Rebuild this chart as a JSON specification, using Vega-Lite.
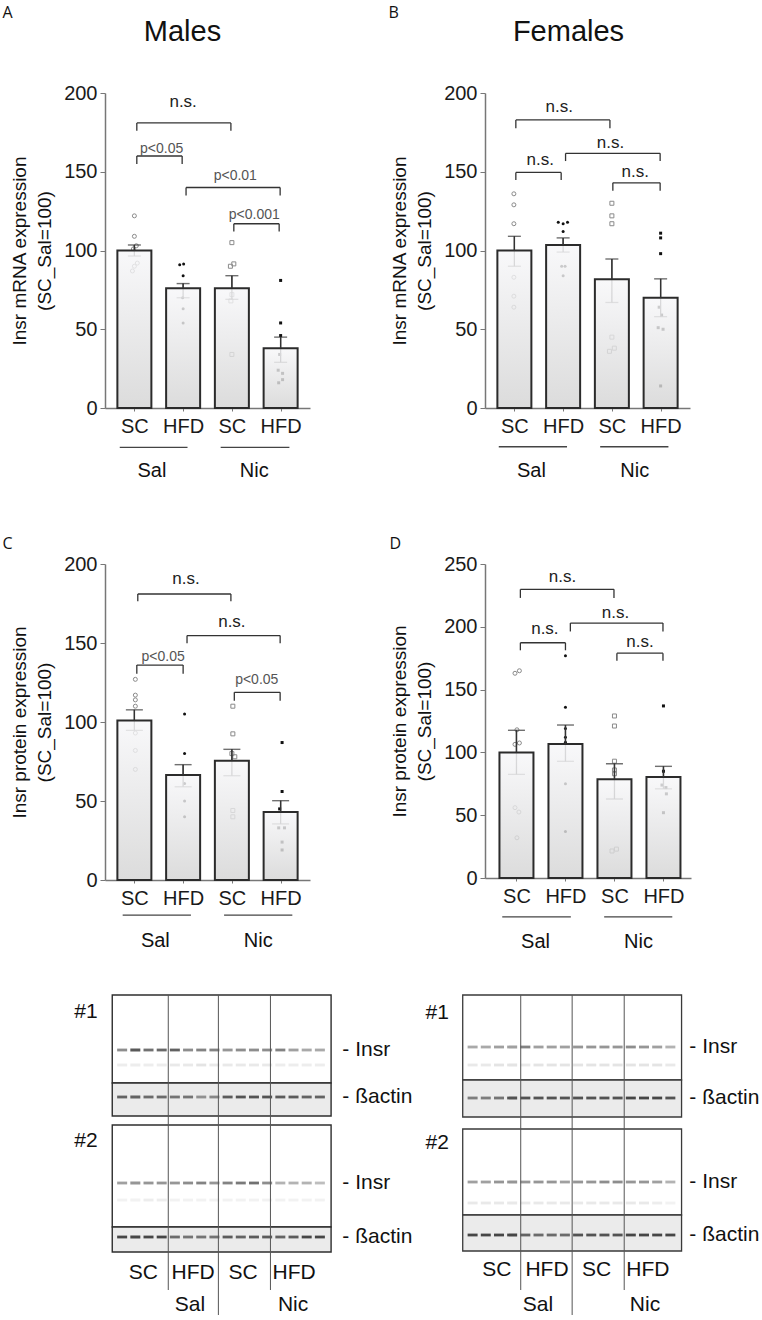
{
"$schema":"https://vega.github.io/schema/vega-lite/v6.json",
"autosize":{"type":"none"},
"padding":{"left":105,"top":93,"right":657,"bottom":1227},
"config":{"view":{"stroke":null},"font":"Liberation Sans","axis":{"grid":false}},
"datasets":{
"ptsA":[{"x":1.0,"y":122,"d":"SC","t":"Sal"},{"x":1.0,"y":109,"d":"SC","t":"Sal"},{"x":1.04,"y":103,"d":"SC","t":"Sal"},{"x":0.98,"y":101,"d":"SC","t":"Sal"},{"x":1.06,"y":92,"d":"SC","t":"Sal"},{"x":1.0,"y":90,"d":"SC","t":"Sal"},{"x":0.96,"y":87,"d":"SC","t":"Sal"},
{"x":1.93,"y":91,"d":"HFD","t":"Sal"},{"x":2.01,"y":91.5,"d":"HFD","t":"Sal"},{"x":2.0,"y":84,"d":"HFD","t":"Sal"},{"x":1.99,"y":70,"d":"HFD","t":"Sal"},{"x":2.0,"y":63,"d":"HFD","t":"Sal"},{"x":2.0,"y":54,"d":"HFD","t":"Sal"},
{"x":3.0,"y":105,"d":"SC","t":"Nic"},{"x":3.04,"y":91.5,"d":"SC","t":"Nic"},{"x":2.97,"y":90,"d":"SC","t":"Nic"},{"x":3.0,"y":72,"d":"SC","t":"Nic"},{"x":2.98,"y":68,"d":"SC","t":"Nic"},{"x":3.0,"y":34,"d":"SC","t":"Nic"},
{"x":4.0,"y":81,"d":"HFD","t":"Nic"},{"x":4.0,"y":54,"d":"HFD","t":"Nic"},{"x":4.0,"y":46,"d":"HFD","t":"Nic"},{"x":3.98,"y":34,"d":"HFD","t":"Nic"},{"x":3.95,"y":24,"d":"HFD","t":"Nic"},{"x":4.04,"y":22,"d":"HFD","t":"Nic"},{"x":4.04,"y":18,"d":"HFD","t":"Nic"},{"x":3.96,"y":16,"d":"HFD","t":"Nic"}],
"barsA":[{"x":1,"mean":100,"lo":96.5,"hi":103.5},{"x":2,"mean":76,"lo":70,"hi":79},{"x":3,"mean":76,"lo":69,"hi":84},{"x":4,"mean":38,"lo":29,"hi":45}],
"brA":[{"x1":1.05,"x2":2.98,"y":181,"yl":176,"xt":2.0,"ty":194.5,"lab":"n.s."},{"x1":1.05,"x2":1.98,"y":160,"yl":155,"xt":1.56,"ty":164.4,"lab":"p<0.05"},{"x1":2.06,"x2":3.99,"y":140,"yl":135,"xt":3.07,"ty":147,"lab":"p<0.01"},{"x1":3.04,"x2":3.97,"y":117,"yl":112,"xt":3.46,"ty":122.5,"lab":"p<0.001"}],
"grpA":[{"x1":0.70,"x2":2.09,"yl":-25,"xt":1.36,"yt":-39.8,"t":"Sal"},{"x1":2.77,"x2":4.18,"yl":-25,"xt":3.46,"yt":-39.8,"t":"Nic"}],
"ptsB":[{"x":0.99,"y":136,"d":"SC","t":"Sal"},{"x":0.99,"y":129,"d":"SC","t":"Sal"},{"x":0.99,"y":117,"d":"SC","t":"Sal"},{"x":0.99,"y":83,"d":"SC","t":"Sal"},{"x":0.99,"y":71,"d":"SC","t":"Sal"},{"x":0.99,"y":64,"d":"SC","t":"Sal"},
{"x":1.9,"y":118,"d":"HFD","t":"Sal"},{"x":2.0,"y":117,"d":"HFD","t":"Sal"},{"x":2.09,"y":118,"d":"HFD","t":"Sal"},{"x":2.0,"y":112,"d":"HFD","t":"Sal"},{"x":1.97,"y":90,"d":"HFD","t":"Sal"},{"x":2.04,"y":90,"d":"HFD","t":"Sal"},{"x":2.0,"y":84,"d":"HFD","t":"Sal"},
{"x":3.0,"y":130,"d":"SC","t":"Nic"},{"x":3.0,"y":122,"d":"SC","t":"Nic"},{"x":3.0,"y":117,"d":"SC","t":"Nic"},{"x":3.0,"y":45,"d":"SC","t":"Nic"},{"x":3.05,"y":38,"d":"SC","t":"Nic"},{"x":2.95,"y":36,"d":"SC","t":"Nic"},
{"x":4.0,"y":111,"d":"HFD","t":"Nic"},{"x":4.0,"y":108,"d":"HFD","t":"Nic"},{"x":4.0,"y":98,"d":"HFD","t":"Nic"},{"x":3.97,"y":64,"d":"HFD","t":"Nic"},{"x":4.02,"y":59,"d":"HFD","t":"Nic"},{"x":3.95,"y":51,"d":"HFD","t":"Nic"},{"x":4.05,"y":50,"d":"HFD","t":"Nic"},{"x":4.0,"y":14,"d":"HFD","t":"Nic"}],
"barsB":[{"x":1,"mean":100,"lo":90,"hi":109},{"x":2,"mean":103.5,"lo":99,"hi":108},{"x":3,"mean":81.7,"lo":67,"hi":94.6},{"x":4,"mean":70,"lo":58,"hi":82}],
"brB":[{"x1":1.03,"x2":2.96,"y":182.9,"yl":177.6,"xt":1.92,"ty":191.3,"lab":"n.s."},{"x1":2.05,"x2":3.99,"y":161.7,"yl":156.8,"xt":2.97,"ty":168,"lab":"n.s."},{"x1":1.03,"x2":1.96,"y":149.6,"yl":144.8,"xt":1.53,"ty":157.5,"lab":"n.s."},{"x1":3.02,"x2":3.99,"y":143,"yl":138,"xt":3.48,"ty":149.6,"lab":"n.s."}],
"grpB":[{"x1":0.68,"x2":2.08,"yl":-24.6,"xt":1.35,"yt":-39.8,"t":"Sal"},{"x1":2.76,"x2":4.16,"yl":-24.6,"xt":3.47,"yt":-39.8,"t":"Nic"}],
"ptsC":[{"x":1.02,"y":127,"d":"SC","t":"Sal"},{"x":1.02,"y":117,"d":"SC","t":"Sal"},{"x":1.02,"y":114,"d":"SC","t":"Sal"},{"x":1.02,"y":110,"d":"SC","t":"Sal"},{"x":1.02,"y":93,"d":"SC","t":"Sal"},{"x":1.02,"y":82,"d":"SC","t":"Sal"},{"x":1.02,"y":70,"d":"SC","t":"Sal"},
{"x":2.03,"y":105,"d":"HFD","t":"Sal"},{"x":2.03,"y":80,"d":"HFD","t":"Sal"},{"x":2.03,"y":61,"d":"HFD","t":"Sal"},{"x":2.03,"y":50,"d":"HFD","t":"Sal"},{"x":2.03,"y":40,"d":"HFD","t":"Sal"},
{"x":3.02,"y":110,"d":"SC","t":"Nic"},{"x":3.02,"y":92.5,"d":"SC","t":"Nic"},{"x":3.0,"y":80,"d":"SC","t":"Nic"},{"x":3.06,"y":78,"d":"SC","t":"Nic"},{"x":3.02,"y":44,"d":"SC","t":"Nic"},{"x":3.02,"y":40,"d":"SC","t":"Nic"},
{"x":4.03,"y":87,"d":"HFD","t":"Nic"},{"x":4.03,"y":56,"d":"HFD","t":"Nic"},{"x":3.98,"y":45,"d":"HFD","t":"Nic"},{"x":3.96,"y":33,"d":"HFD","t":"Nic"},{"x":4.08,"y":33,"d":"HFD","t":"Nic"},{"x":4.03,"y":24,"d":"HFD","t":"Nic"},{"x":4.03,"y":19,"d":"HFD","t":"Nic"}],
"barsC":[{"x":1,"mean":101,"lo":94.7,"hi":107.7},{"x":2,"mean":66.4,"lo":59,"hi":73},{"x":3,"mean":75.4,"lo":66,"hi":82.7},{"x":4,"mean":43,"lo":35.5,"hi":50.2}],
"brC":[{"x1":1.07,"x2":2.98,"y":181,"yl":176.5,"xt":2.06,"ty":190.4,"lab":"n.s."},{"x1":2.08,"x2":3.99,"y":154.7,"yl":149.8,"xt":3.0,"ty":163.6,"lab":"n.s."},{"x1":1.05,"x2":2.0,"y":136,"yl":130.6,"xt":1.59,"ty":141.2,"lab":"p<0.05"},{"x1":3.05,"x2":3.99,"y":118.8,"yl":113.5,"xt":3.51,"ty":126.3,"lab":"p<0.05"}],
"grpC":[{"x1":0.76,"x2":2.16,"yl":-22.2,"xt":1.43,"yt":-38.3,"t":"Sal"},{"x1":2.84,"x2":4.24,"yl":-22.2,"xt":3.54,"yt":-38.3,"t":"Nic"}],
"ptsD":[{"x":1.06,"y":165,"d":"SC","t":"Sal"},{"x":0.97,"y":163,"d":"SC","t":"Sal"},{"x":1.01,"y":118,"d":"SC","t":"Sal"},{"x":1.06,"y":107.5,"d":"SC","t":"Sal"},{"x":0.97,"y":106.4,"d":"SC","t":"Sal"},{"x":0.97,"y":56,"d":"SC","t":"Sal"},{"x":1.05,"y":52.5,"d":"SC","t":"Sal"},{"x":1.01,"y":32,"d":"SC","t":"Sal"},
{"x":2.0,"y":177,"d":"HFD","t":"Sal"},{"x":2.0,"y":136,"d":"HFD","t":"Sal"},{"x":2.0,"y":119,"d":"HFD","t":"Sal"},{"x":2.0,"y":112,"d":"HFD","t":"Sal"},{"x":2.0,"y":108,"d":"HFD","t":"Sal"},{"x":2.0,"y":75,"d":"HFD","t":"Sal"},{"x":2.0,"y":37,"d":"HFD","t":"Sal"},
{"x":3.0,"y":129,"d":"SC","t":"Nic"},{"x":3.0,"y":121,"d":"SC","t":"Nic"},{"x":3.0,"y":93,"d":"SC","t":"Nic"},{"x":3.0,"y":86,"d":"SC","t":"Nic"},{"x":3.0,"y":83,"d":"SC","t":"Nic"},{"x":3.04,"y":23,"d":"SC","t":"Nic"},{"x":2.95,"y":21.5,"d":"SC","t":"Nic"},
{"x":4.0,"y":137,"d":"HFD","t":"Nic"},{"x":4.0,"y":85,"d":"HFD","t":"Nic"},{"x":3.97,"y":74,"d":"HFD","t":"Nic"},{"x":4.05,"y":72,"d":"HFD","t":"Nic"},{"x":4.06,"y":67,"d":"HFD","t":"Nic"},{"x":4.0,"y":52,"d":"HFD","t":"Nic"}],
"barsD":[{"x":1,"mean":100,"lo":82.5,"hi":117.6},{"x":2,"mean":106.7,"lo":92.9,"hi":121.8},{"x":3,"mean":78.6,"lo":62.9,"hi":91},{"x":4,"mean":80.4,"lo":71,"hi":88.9}],
"brD":[{"x1":1.08,"x2":2.99,"y":229.8,"yl":223,"xt":1.94,"ty":239.6,"lab":"n.s."},{"x1":2.1,"x2":3.99,"y":203,"yl":196.3,"xt":3.02,"ty":211,"lab":"n.s."},{"x1":1.08,"x2":2.0,"y":187.3,"yl":181.3,"xt":1.58,"ty":198,"lab":"n.s."},{"x1":3.05,"x2":3.99,"y":179,"yl":173,"xt":3.52,"ty":188,"lab":"n.s."}],
"grpD":[{"x1":0.71,"x2":2.11,"yl":-31,"xt":1.39,"yt":-51,"t":"Sal"},{"x1":2.79,"x2":4.18,"yl":-31,"xt":3.49,"yt":-51,"t":"Nic"}],
"boxL":[{"x1":0.25,"x2":16.85,"y1":0,"y2":8.8,"k":"ins"},{"x1":0.25,"x2":16.85,"y1":8.8,"y2":12.1,"k":"act"},{"x1":0.25,"x2":16.85,"y1":13.0,"y2":23.2,"k":"ins"},{"x1":0.25,"x2":16.85,"y1":23.2,"y2":25.7,"k":"act"}],
"boxR":[{"x1":0.25,"x2":16.85,"y1":0,"y2":8.5,"k":"ins"},{"x1":0.25,"x2":16.85,"y1":8.5,"y2":12.2,"k":"act"},{"x1":0.25,"x2":16.85,"y1":13.4,"y2":22.0,"k":"ins"},{"x1":0.25,"x2":16.85,"y1":22.0,"y2":25.6,"k":"act"}],
"divL":[{"x":4.5,"y1":0,"y2":29.5},{"x":8.3,"y1":0,"y2":32},{"x":12.25,"y1":0,"y2":29.5}],
"divR":[{"x":4.65,"y1":0,"y2":29.5},{"x":8.55,"y1":0,"y2":32},{"x":12.5,"y1":0,"y2":29.5}],
"labLl":[{"x":17.7,"y":5.5,"t":"- Insr"},{"x":17.7,"y":10.2,"t":"- ßactin"},{"x":17.7,"y":18.8,"t":"- Insr"},{"x":17.7,"y":24.2,"t":"- ßactin"}],
"labLc":[{"x":-1.75,"y":1.7,"t":"#1"},{"x":-1.75,"y":14.6,"t":"#2"},{"x":2.61,"y":27.8,"t":"SC"},{"x":6.38,"y":27.8,"t":"HFD"},{"x":10.17,"y":27.8,"t":"SC"},{"x":14.04,"y":27.8,"t":"HFD"},{"x":6.15,"y":31.0,"t":"Sal"},{"x":13.97,"y":31.0,"t":"Nic"}],
"labRl":[{"x":17.44,"y":5.2,"t":"- Insr"},{"x":17.44,"y":10.3,"t":"- ßactin"},{"x":17.44,"y":18.7,"t":"- Insr"},{"x":17.44,"y":24.0,"t":"- ßactin"}],
"labRc":[{"x":-1.68,"y":1.8,"t":"#1"},{"x":-1.68,"y":14.8,"t":"#2"},{"x":2.83,"y":27.5,"t":"SC"},{"x":6.64,"y":27.5,"t":"HFD"},{"x":10.41,"y":27.5,"t":"SC"},{"x":14.3,"y":27.5,"t":"HFD"},{"x":5.96,"y":31.0,"t":"Sal"},{"x":14.08,"y":31.0,"t":"Nic"}],
"bandL":[
{"r":"I1","l":1,"v":0.55},{"r":"I1","l":2,"v":0.85},{"r":"I1","l":3,"v":0.7},{"r":"I1","l":4,"v":0.75},{"r":"I1","l":5,"v":0.8},{"r":"I1","l":6,"v":0.55},{"r":"I1","l":7,"v":0.6},{"r":"I1","l":8,"v":0.6},{"r":"I1","l":9,"v":0.5},{"r":"I1","l":10,"v":0.55},{"r":"I1","l":11,"v":0.55},{"r":"I1","l":12,"v":0.55},{"r":"I1","l":13,"v":0.6},{"r":"I1","l":14,"v":0.45},{"r":"I1","l":15,"v":0.4},{"r":"I1","l":16,"v":0.4},
{"r":"F1","l":1,"v":0.08},{"r":"F1","l":2,"v":0.08},{"r":"F1","l":3,"v":0.08},{"r":"F1","l":4,"v":0.08},{"r":"F1","l":5,"v":0.1},{"r":"F1","l":6,"v":0.1},{"r":"F1","l":7,"v":0.12},{"r":"F1","l":8,"v":0.1},{"r":"F1","l":9,"v":0.1},{"r":"F1","l":10,"v":0.1},{"r":"F1","l":11,"v":0.1},{"r":"F1","l":12,"v":0.1},{"r":"F1","l":13,"v":0.08},{"r":"F1","l":14,"v":0.08},{"r":"F1","l":15,"v":0.08},{"r":"F1","l":16,"v":0.08},
{"r":"A1","l":1,"v":0.75},{"r":"A1","l":2,"v":0.75},{"r":"A1","l":3,"v":0.7},{"r":"A1","l":4,"v":0.7},{"r":"A1","l":5,"v":0.65},{"r":"A1","l":6,"v":0.65},{"r":"A1","l":7,"v":0.5},{"r":"A1","l":8,"v":0.55},{"r":"A1","l":9,"v":0.8},{"r":"A1","l":10,"v":0.85},{"r":"A1","l":11,"v":0.85},{"r":"A1","l":12,"v":0.85},{"r":"A1","l":13,"v":0.8},{"r":"A1","l":14,"v":0.8},{"r":"A1","l":15,"v":0.75},{"r":"A1","l":16,"v":0.75},
{"r":"I2","l":1,"v":0.45},{"r":"I2","l":2,"v":0.5},{"r":"I2","l":3,"v":0.5},{"r":"I2","l":4,"v":0.5},{"r":"I2","l":5,"v":0.5},{"r":"I2","l":6,"v":0.55},{"r":"I2","l":7,"v":0.6},{"r":"I2","l":8,"v":0.5},{"r":"I2","l":9,"v":0.6},{"r":"I2","l":10,"v":0.65},{"r":"I2","l":11,"v":0.7},{"r":"I2","l":12,"v":0.55},{"r":"I2","l":13,"v":0.35},{"r":"I2","l":14,"v":0.35},{"r":"I2","l":15,"v":0.35},{"r":"I2","l":16,"v":0.3},
{"r":"F2","l":1,"v":0.06},{"r":"F2","l":2,"v":0.06},{"r":"F2","l":3,"v":0.08},{"r":"F2","l":4,"v":0.08},{"r":"F2","l":5,"v":0.06},{"r":"F2","l":6,"v":0.06},{"r":"F2","l":7,"v":0.06},{"r":"F2","l":8,"v":0.06},{"r":"F2","l":9,"v":0.06},{"r":"F2","l":10,"v":0.06},{"r":"F2","l":11,"v":0.06},{"r":"F2","l":12,"v":0.06},{"r":"F2","l":13,"v":0.06},{"r":"F2","l":14,"v":0.06},{"r":"F2","l":15,"v":0.06},{"r":"F2","l":16,"v":0.06},
{"r":"A2","l":1,"v":0.95},{"r":"A2","l":2,"v":0.95},{"r":"A2","l":3,"v":0.9},{"r":"A2","l":4,"v":0.9},{"r":"A2","l":5,"v":0.7},{"r":"A2","l":6,"v":0.65},{"r":"A2","l":7,"v":0.65},{"r":"A2","l":8,"v":0.65},{"r":"A2","l":9,"v":0.8},{"r":"A2","l":10,"v":0.75},{"r":"A2","l":11,"v":0.8},{"r":"A2","l":12,"v":0.8},{"r":"A2","l":13,"v":0.75},{"r":"A2","l":14,"v":0.8},{"r":"A2","l":15,"v":0.9},{"r":"A2","l":16,"v":0.95}],
"bandR":[
{"r":"I1","l":1,"v":0.4},{"r":"I1","l":2,"v":0.4},{"r":"I1","l":3,"v":0.45},{"r":"I1","l":4,"v":0.45},{"r":"I1","l":5,"v":0.6},{"r":"I1","l":6,"v":0.45},{"r":"I1","l":7,"v":0.45},{"r":"I1","l":8,"v":0.45},{"r":"I1","l":9,"v":0.5},{"r":"I1","l":10,"v":0.5},{"r":"I1","l":11,"v":0.5},{"r":"I1","l":12,"v":0.5},{"r":"I1","l":13,"v":0.55},{"r":"I1","l":14,"v":0.5},{"r":"I1","l":15,"v":0.45},{"r":"I1","l":16,"v":0.35},
{"r":"F1","l":1,"v":0.1},{"r":"F1","l":2,"v":0.1},{"r":"F1","l":3,"v":0.12},{"r":"F1","l":4,"v":0.12},{"r":"F1","l":5,"v":0.1},{"r":"F1","l":6,"v":0.12},{"r":"F1","l":7,"v":0.12},{"r":"F1","l":8,"v":0.12},{"r":"F1","l":9,"v":0.12},{"r":"F1","l":10,"v":0.12},{"r":"F1","l":11,"v":0.12},{"r":"F1","l":12,"v":0.12},{"r":"F1","l":13,"v":0.12},{"r":"F1","l":14,"v":0.12},{"r":"F1","l":15,"v":0.12},{"r":"F1","l":16,"v":0.1},
{"r":"A1","l":1,"v":0.6},{"r":"A1","l":2,"v":0.6},{"r":"A1","l":3,"v":0.65},{"r":"A1","l":4,"v":0.85},{"r":"A1","l":5,"v":0.85},{"r":"A1","l":6,"v":0.85},{"r":"A1","l":7,"v":0.85},{"r":"A1","l":8,"v":0.85},{"r":"A1","l":9,"v":0.85},{"r":"A1","l":10,"v":0.85},{"r":"A1","l":11,"v":0.85},{"r":"A1","l":12,"v":0.85},{"r":"A1","l":13,"v":0.9},{"r":"A1","l":14,"v":0.9},{"r":"A1","l":15,"v":0.9},{"r":"A1","l":16,"v":0.85},
{"r":"I2","l":1,"v":0.45},{"r":"I2","l":2,"v":0.45},{"r":"I2","l":3,"v":0.5},{"r":"I2","l":4,"v":0.5},{"r":"I2","l":5,"v":0.5},{"r":"I2","l":6,"v":0.5},{"r":"I2","l":7,"v":0.5},{"r":"I2","l":8,"v":0.45},{"r":"I2","l":9,"v":0.5},{"r":"I2","l":10,"v":0.5},{"r":"I2","l":11,"v":0.55},{"r":"I2","l":12,"v":0.55},{"r":"I2","l":13,"v":0.5},{"r":"I2","l":14,"v":0.5},{"r":"I2","l":15,"v":0.45},{"r":"I2","l":16,"v":0.35},
{"r":"F2","l":1,"v":0.1},{"r":"F2","l":2,"v":0.1},{"r":"F2","l":3,"v":0.1},{"r":"F2","l":4,"v":0.1},{"r":"F2","l":5,"v":0.1},{"r":"F2","l":6,"v":0.1},{"r":"F2","l":7,"v":0.1},{"r":"F2","l":8,"v":0.1},{"r":"F2","l":9,"v":0.1},{"r":"F2","l":10,"v":0.1},{"r":"F2","l":11,"v":0.1},{"r":"F2","l":12,"v":0.1},{"r":"F2","l":13,"v":0.1},{"r":"F2","l":14,"v":0.1},{"r":"F2","l":15,"v":0.08},{"r":"F2","l":16,"v":0.06},
{"r":"A2","l":1,"v":0.9},{"r":"A2","l":2,"v":0.9},{"r":"A2","l":3,"v":0.9},{"r":"A2","l":4,"v":0.9},{"r":"A2","l":5,"v":0.75},{"r":"A2","l":6,"v":0.7},{"r":"A2","l":7,"v":0.7},{"r":"A2","l":8,"v":0.7},{"r":"A2","l":9,"v":0.85},{"r":"A2","l":10,"v":0.85},{"r":"A2","l":11,"v":0.85},{"r":"A2","l":12,"v":0.85},{"r":"A2","l":13,"v":0.9},{"r":"A2","l":14,"v":0.9},{"r":"A2","l":15,"v":0.9},{"r":"A2","l":16,"v":0.9}]
},
"bounds":"flush",
"columns":2,
"spacing":{"row":156,"column":175},
"concat":[
{"width":205,"height":315,"resolve":{"axis":{"x":"independent","y":"independent"}},"layer":[
{"data":{"name":"ptsA"},"transform":[{"filter":"datum.d=='SC'"}],"mark":{"type":"point","filled":false,"color":"#8a8a8a","strokeWidth":1,"size":16,"opacity":1},
"encoding":{"x":{"field":"x","type":"quantitative","scale":{"domain":[0.5,4.5],"nice":false,"zero":false},"axis":{"orient":"top","title":"Males","labels":false,"ticks":false,"domain":false,"grid":false,"titleX":77,"titleY":-53,"titleAlign":"center","titleBaseline":"alphabetic","titleAngle":0,"titleFontSize":29,"titleFontWeight":"normal","titleColor":"#111"}},
"y":{"field":"y","type":"quantitative","scale":{"domain":[0,200],"nice":false,"zero":true},"axis":{"orient":"right","title":"A","labels":false,"ticks":false,"domain":false,"grid":false,"titleX":-308,"titleY":-76,"titleAngle":0,"titleAlign":"left","titleBaseline":"alphabetic","titleFontSize":16,"titleFontWeight":"normal","titleFont":"Open Sans","titleColor":"#111"}},
"shape":{"field":"t","type":"nominal","scale":{"domain":["Sal","Nic"],"range":["circle","square"]},"legend":null}}},
{"data":{"name":"ptsA"},"transform":[{"filter":"datum.d=='HFD'"}],"mark":{"type":"point","filled":true,"color":"#111","size":9,"opacity":1},
"encoding":{"x":{"field":"x","type":"quantitative","axis":null},"y":{"field":"y","type":"quantitative","axis":null},"shape":{"field":"t","type":"nominal","scale":{"domain":["Sal","Nic"],"range":["circle","square"]},"legend":null}}},
{"data":{"name":"barsA"},"mark":{"type":"rule","color":"#555","strokeWidth":1.3},"encoding":{"x":{"field":"x","type":"quantitative","axis":null},"y":{"field":"lo","type":"quantitative","axis":null},"y2":{"field":"hi"}}},
{"data":{"name":"barsA"},"mark":{"type":"tick","orient":"horizontal","size":13,"thickness":1.3,"color":"#555"},"encoding":{"x":{"field":"x","type":"quantitative","axis":null},"y":{"field":"lo","type":"quantitative","axis":null}}},
{"data":{"name":"barsA"},"mark":{"type":"bar","width":34,"fill":{"gradient":"linear","x1":0,"y1":0,"x2":0,"y2":1,"stops":[{"offset":0,"color":"#f7f7f9"},{"offset":1,"color":"#d4d4d4"}]},"fillOpacity":0.82,"stroke":"#2b2b2b","strokeWidth":2},
"encoding":{"x":{"field":"x","type":"quantitative","axis":{"orient":"bottom","values":[1,2,3,4],"labelExpr":"datum.value==1||datum.value==3?'SC':'HFD'","title":null,"labelFontSize":20,"labelColor":"#1a1a1a","labelPadding":5,"tickSize":3,"tickColor":"#777","domainColor":"#777","domainWidth":1.5,"grid":false,"labelFlush":false,"labelOverlap":false}},
"y":{"field":"mean","type":"quantitative","axis":{"orient":"left","values":[0,50,100,150,200],"title":["Insr mRNA expression","(SC_Sal=100)"],"titleFontSize":19,"titleFontWeight":"normal","titleColor":"#111","titlePadding":9,"titleLineHeight":25,"labelFontSize":20,"labelColor":"#1a1a1a","labelPadding":3,"tickSize":5,"tickColor":"#777","domainColor":"#777","domainWidth":1.5,"grid":false,"labelFlush":false}}}},
{"data":{"name":"barsA"},"mark":{"type":"rule","color":"#333","strokeWidth":1.4},"encoding":{"x":{"field":"x","type":"quantitative","axis":null},"y":{"field":"mean","type":"quantitative","axis":null},"y2":{"field":"hi"}}},
{"data":{"name":"barsA"},"mark":{"type":"tick","orient":"horizontal","size":13,"thickness":1.4,"color":"#333"},"encoding":{"x":{"field":"x","type":"quantitative","axis":null},"y":{"field":"hi","type":"quantitative","axis":null}}},
{"data":{"name":"brA"},"mark":{"type":"rule","color":"#333","strokeWidth":1.3},"encoding":{"x":{"field":"x1","type":"quantitative","axis":null},"x2":{"field":"x2"},"y":{"field":"y","type":"quantitative","axis":null}}},
{"data":{"name":"brA"},"mark":{"type":"rule","color":"#333","strokeWidth":1.3},"encoding":{"x":{"field":"x1","type":"quantitative","axis":null},"y":{"field":"y","type":"quantitative","axis":null},"y2":{"field":"yl"}}},
{"data":{"name":"brA"},"mark":{"type":"rule","color":"#333","strokeWidth":1.3},"encoding":{"x":{"field":"x2","type":"quantitative","axis":null},"y":{"field":"y","type":"quantitative","axis":null},"y2":{"field":"yl"}}},
{"data":{"name":"brA"},"mark":{"type":"text","baseline":"middle","align":"center"},"encoding":{"x":{"field":"xt","type":"quantitative","axis":null},"y":{"field":"ty","type":"quantitative","axis":null},"text":{"field":"lab"},"size":{"condition":{"test":"datum.lab=='n.s.'","value":17},"value":14},"color":{"condition":{"test":"datum.lab=='n.s.'","value":"#222"},"value":"#555"}}},
{"data":{"name":"grpA"},"mark":{"type":"rule","color":"#444","strokeWidth":1.3},"encoding":{"x":{"field":"x1","type":"quantitative","axis":null},"x2":{"field":"x2"},"y":{"field":"yl","type":"quantitative","axis":null}}},
{"data":{"name":"grpA"},"mark":{"type":"text","baseline":"middle","align":"center","fontSize":20,"color":"#111"},"encoding":{"x":{"field":"xt","type":"quantitative","axis":null},"y":{"field":"yt","type":"quantitative","axis":null},"text":{"field":"t"}}}
]},
{"width":205,"height":315,"resolve":{"axis":{"x":"independent","y":"independent"}},"layer":[
{"data":{"name":"ptsB"},"transform":[{"filter":"datum.d=='SC'"}],"mark":{"type":"point","filled":false,"color":"#8a8a8a","strokeWidth":1,"size":16,"opacity":1},
"encoding":{"x":{"field":"x","type":"quantitative","scale":{"domain":[0.5,4.5],"nice":false,"zero":false},"axis":{"orient":"top","title":"Females","labels":false,"ticks":false,"domain":false,"grid":false,"titleX":83,"titleY":-53,"titleAlign":"center","titleBaseline":"alphabetic","titleAngle":0,"titleFontSize":29,"titleFontWeight":"normal","titleColor":"#111"}},
"y":{"field":"y","type":"quantitative","scale":{"domain":[0,200],"nice":false,"zero":true},"axis":{"orient":"right","title":"B","labels":false,"ticks":false,"domain":false,"grid":false,"titleX":-302,"titleY":-76,"titleAngle":0,"titleAlign":"left","titleBaseline":"alphabetic","titleFontSize":16,"titleFontWeight":"normal","titleFont":"Open Sans","titleColor":"#111"}},
"shape":{"field":"t","type":"nominal","scale":{"domain":["Sal","Nic"],"range":["circle","square"]},"legend":null}}},
{"data":{"name":"ptsB"},"transform":[{"filter":"datum.d=='HFD'"}],"mark":{"type":"point","filled":true,"color":"#111","size":9,"opacity":1},
"encoding":{"x":{"field":"x","type":"quantitative","axis":null},"y":{"field":"y","type":"quantitative","axis":null},"shape":{"field":"t","type":"nominal","scale":{"domain":["Sal","Nic"],"range":["circle","square"]},"legend":null}}},
{"data":{"name":"barsB"},"mark":{"type":"rule","color":"#555","strokeWidth":1.3},"encoding":{"x":{"field":"x","type":"quantitative","axis":null},"y":{"field":"lo","type":"quantitative","axis":null},"y2":{"field":"hi"}}},
{"data":{"name":"barsB"},"mark":{"type":"tick","orient":"horizontal","size":13,"thickness":1.3,"color":"#555"},"encoding":{"x":{"field":"x","type":"quantitative","axis":null},"y":{"field":"lo","type":"quantitative","axis":null}}},
{"data":{"name":"barsB"},"mark":{"type":"bar","width":34,"fill":{"gradient":"linear","x1":0,"y1":0,"x2":0,"y2":1,"stops":[{"offset":0,"color":"#f7f7f9"},{"offset":1,"color":"#d4d4d4"}]},"fillOpacity":0.82,"stroke":"#2b2b2b","strokeWidth":2},
"encoding":{"x":{"field":"x","type":"quantitative","axis":{"orient":"bottom","values":[1,2,3,4],"labelExpr":"datum.value==1||datum.value==3?'SC':'HFD'","title":null,"labelFontSize":20,"labelColor":"#1a1a1a","labelPadding":5,"tickSize":3,"tickColor":"#777","domainColor":"#777","domainWidth":1.5,"grid":false,"labelFlush":false,"labelOverlap":false}},
"y":{"field":"mean","type":"quantitative","axis":{"orient":"left","values":[0,50,100,150,200],"title":["Insr mRNA expression","(SC_Sal=100)"],"titleFontSize":19,"titleFontWeight":"normal","titleColor":"#111","titlePadding":9,"titleLineHeight":25,"labelFontSize":20,"labelColor":"#1a1a1a","labelPadding":3,"tickSize":5,"tickColor":"#777","domainColor":"#777","domainWidth":1.5,"grid":false,"labelFlush":false}}}},
{"data":{"name":"barsB"},"mark":{"type":"rule","color":"#333","strokeWidth":1.4},"encoding":{"x":{"field":"x","type":"quantitative","axis":null},"y":{"field":"mean","type":"quantitative","axis":null},"y2":{"field":"hi"}}},
{"data":{"name":"barsB"},"mark":{"type":"tick","orient":"horizontal","size":13,"thickness":1.4,"color":"#333"},"encoding":{"x":{"field":"x","type":"quantitative","axis":null},"y":{"field":"hi","type":"quantitative","axis":null}}},
{"data":{"name":"brB"},"mark":{"type":"rule","color":"#333","strokeWidth":1.3},"encoding":{"x":{"field":"x1","type":"quantitative","axis":null},"x2":{"field":"x2"},"y":{"field":"y","type":"quantitative","axis":null}}},
{"data":{"name":"brB"},"mark":{"type":"rule","color":"#333","strokeWidth":1.3},"encoding":{"x":{"field":"x1","type":"quantitative","axis":null},"y":{"field":"y","type":"quantitative","axis":null},"y2":{"field":"yl"}}},
{"data":{"name":"brB"},"mark":{"type":"rule","color":"#333","strokeWidth":1.3},"encoding":{"x":{"field":"x2","type":"quantitative","axis":null},"y":{"field":"y","type":"quantitative","axis":null},"y2":{"field":"yl"}}},
{"data":{"name":"brB"},"mark":{"type":"text","baseline":"middle","align":"center"},"encoding":{"x":{"field":"xt","type":"quantitative","axis":null},"y":{"field":"ty","type":"quantitative","axis":null},"text":{"field":"lab"},"size":{"condition":{"test":"datum.lab=='n.s.'","value":17},"value":14},"color":{"condition":{"test":"datum.lab=='n.s.'","value":"#222"},"value":"#555"}}},
{"data":{"name":"grpB"},"mark":{"type":"rule","color":"#444","strokeWidth":1.3},"encoding":{"x":{"field":"x1","type":"quantitative","axis":null},"x2":{"field":"x2"},"y":{"field":"yl","type":"quantitative","axis":null}}},
{"data":{"name":"grpB"},"mark":{"type":"text","baseline":"middle","align":"center","fontSize":20,"color":"#111"},"encoding":{"x":{"field":"xt","type":"quantitative","axis":null},"y":{"field":"yt","type":"quantitative","axis":null},"text":{"field":"t"}}}
]},
{"width":205,"height":316,"resolve":{"axis":{"x":"independent","y":"independent"}},"layer":[
{"data":{"name":"ptsC"},"transform":[{"filter":"datum.d=='SC'"}],"mark":{"type":"point","filled":false,"color":"#8a8a8a","strokeWidth":1,"size":16,"opacity":1},
"encoding":{"x":{"field":"x","type":"quantitative","scale":{"domain":[0.5,4.5],"nice":false,"zero":false},"axis":null},
"y":{"field":"y","type":"quantitative","scale":{"domain":[0,200],"nice":false,"zero":true},"axis":{"orient":"right","title":"C","labels":false,"ticks":false,"domain":false,"grid":false,"titleX":-308,"titleY":-16,"titleAngle":0,"titleAlign":"left","titleBaseline":"alphabetic","titleFontSize":16,"titleFontWeight":"normal","titleFont":"Open Sans","titleColor":"#111"}},
"shape":{"field":"t","type":"nominal","scale":{"domain":["Sal","Nic"],"range":["circle","square"]},"legend":null}}},
{"data":{"name":"ptsC"},"transform":[{"filter":"datum.d=='HFD'"}],"mark":{"type":"point","filled":true,"color":"#111","size":9,"opacity":1},
"encoding":{"x":{"field":"x","type":"quantitative","axis":null},"y":{"field":"y","type":"quantitative","axis":null},"shape":{"field":"t","type":"nominal","scale":{"domain":["Sal","Nic"],"range":["circle","square"]},"legend":null}}},
{"data":{"name":"barsC"},"mark":{"type":"rule","color":"#555","strokeWidth":1.3},"encoding":{"x":{"field":"x","type":"quantitative","axis":null},"y":{"field":"lo","type":"quantitative","axis":null},"y2":{"field":"hi"}}},
{"data":{"name":"barsC"},"mark":{"type":"tick","orient":"horizontal","size":17,"thickness":1.3,"color":"#555"},"encoding":{"x":{"field":"x","type":"quantitative","axis":null},"y":{"field":"lo","type":"quantitative","axis":null}}},
{"data":{"name":"barsC"},"mark":{"type":"bar","width":34,"fill":{"gradient":"linear","x1":0,"y1":0,"x2":0,"y2":1,"stops":[{"offset":0,"color":"#f7f7f9"},{"offset":1,"color":"#d4d4d4"}]},"fillOpacity":0.82,"stroke":"#2b2b2b","strokeWidth":2},
"encoding":{"x":{"field":"x","type":"quantitative","axis":{"orient":"bottom","values":[1,2,3,4],"labelExpr":"datum.value==1||datum.value==3?'SC':'HFD'","title":null,"labelFontSize":20,"labelColor":"#1a1a1a","labelPadding":5,"tickSize":3,"tickColor":"#777","domainColor":"#777","domainWidth":1.5,"grid":false,"labelFlush":false,"labelOverlap":false}},
"y":{"field":"mean","type":"quantitative","axis":{"orient":"left","values":[0,50,100,150,200],"title":["Insr protein expression","(SC_Sal=100)"],"titleFontSize":19,"titleFontWeight":"normal","titleColor":"#111","titlePadding":9,"titleLineHeight":25,"labelFontSize":20,"labelColor":"#1a1a1a","labelPadding":3,"tickSize":5,"tickColor":"#777","domainColor":"#777","domainWidth":1.5,"grid":false,"labelFlush":false}}}},
{"data":{"name":"barsC"},"mark":{"type":"rule","color":"#333","strokeWidth":1.4},"encoding":{"x":{"field":"x","type":"quantitative","axis":null},"y":{"field":"mean","type":"quantitative","axis":null},"y2":{"field":"hi"}}},
{"data":{"name":"barsC"},"mark":{"type":"tick","orient":"horizontal","size":17,"thickness":1.4,"color":"#333"},"encoding":{"x":{"field":"x","type":"quantitative","axis":null},"y":{"field":"hi","type":"quantitative","axis":null}}},
{"data":{"name":"brC"},"mark":{"type":"rule","color":"#333","strokeWidth":1.3},"encoding":{"x":{"field":"x1","type":"quantitative","axis":null},"x2":{"field":"x2"},"y":{"field":"y","type":"quantitative","axis":null}}},
{"data":{"name":"brC"},"mark":{"type":"rule","color":"#333","strokeWidth":1.3},"encoding":{"x":{"field":"x1","type":"quantitative","axis":null},"y":{"field":"y","type":"quantitative","axis":null},"y2":{"field":"yl"}}},
{"data":{"name":"brC"},"mark":{"type":"rule","color":"#333","strokeWidth":1.3},"encoding":{"x":{"field":"x2","type":"quantitative","axis":null},"y":{"field":"y","type":"quantitative","axis":null},"y2":{"field":"yl"}}},
{"data":{"name":"brC"},"mark":{"type":"text","baseline":"middle","align":"center"},"encoding":{"x":{"field":"xt","type":"quantitative","axis":null},"y":{"field":"ty","type":"quantitative","axis":null},"text":{"field":"lab"},"size":{"condition":{"test":"datum.lab=='n.s.'","value":17},"value":14},"color":{"condition":{"test":"datum.lab=='n.s.'","value":"#222"},"value":"#555"}}},
{"data":{"name":"grpC"},"mark":{"type":"rule","color":"#444","strokeWidth":1.3},"encoding":{"x":{"field":"x1","type":"quantitative","axis":null},"x2":{"field":"x2"},"y":{"field":"yl","type":"quantitative","axis":null}}},
{"data":{"name":"grpC"},"mark":{"type":"text","baseline":"middle","align":"center","fontSize":20,"color":"#111"},"encoding":{"x":{"field":"xt","type":"quantitative","axis":null},"y":{"field":"yt","type":"quantitative","axis":null},"text":{"field":"t"}}}
]},
{"width":206,"height":314,"resolve":{"axis":{"x":"independent","y":"independent"}},"layer":[
{"data":{"name":"ptsD"},"transform":[{"filter":"datum.d=='SC'"}],"mark":{"type":"point","filled":false,"color":"#8a8a8a","strokeWidth":1,"size":16,"opacity":1},
"encoding":{"x":{"field":"x","type":"quantitative","scale":{"domain":[0.46,4.46],"nice":false,"zero":false},"axis":null},
"y":{"field":"y","type":"quantitative","scale":{"domain":[0,250],"nice":false,"zero":true},"axis":{"orient":"right","title":"D","labels":false,"ticks":false,"domain":false,"grid":false,"titleX":-302,"titleY":-16,"titleAngle":0,"titleAlign":"left","titleBaseline":"alphabetic","titleFontSize":16,"titleFontWeight":"normal","titleFont":"Open Sans","titleColor":"#111"}},
"shape":{"field":"t","type":"nominal","scale":{"domain":["Sal","Nic"],"range":["circle","square"]},"legend":null}}},
{"data":{"name":"ptsD"},"transform":[{"filter":"datum.d=='HFD'"}],"mark":{"type":"point","filled":true,"color":"#111","size":9,"opacity":1},
"encoding":{"x":{"field":"x","type":"quantitative","axis":null},"y":{"field":"y","type":"quantitative","axis":null},"shape":{"field":"t","type":"nominal","scale":{"domain":["Sal","Nic"],"range":["circle","square"]},"legend":null}}},
{"data":{"name":"barsD"},"mark":{"type":"rule","color":"#555","strokeWidth":1.3},"encoding":{"x":{"field":"x","type":"quantitative","axis":null},"y":{"field":"lo","type":"quantitative","axis":null},"y2":{"field":"hi"}}},
{"data":{"name":"barsD"},"mark":{"type":"tick","orient":"horizontal","size":17,"thickness":1.3,"color":"#555"},"encoding":{"x":{"field":"x","type":"quantitative","axis":null},"y":{"field":"lo","type":"quantitative","axis":null}}},
{"data":{"name":"barsD"},"mark":{"type":"bar","width":34,"fill":{"gradient":"linear","x1":0,"y1":0,"x2":0,"y2":1,"stops":[{"offset":0,"color":"#f7f7f9"},{"offset":1,"color":"#d4d4d4"}]},"fillOpacity":0.82,"stroke":"#2b2b2b","strokeWidth":2},
"encoding":{"x":{"field":"x","type":"quantitative","axis":{"orient":"bottom","values":[1,2,3,4],"labelExpr":"datum.value==1||datum.value==3?'SC':'HFD'","title":null,"labelFontSize":20,"labelColor":"#1a1a1a","labelPadding":5,"tickSize":3,"tickColor":"#777","domainColor":"#777","domainWidth":1.5,"grid":false,"labelFlush":false,"labelOverlap":false}},
"y":{"field":"mean","type":"quantitative","axis":{"orient":"left","values":[0,50,100,150,200,250],"title":["Insr protein expression","(SC_Sal=100)"],"titleFontSize":19,"titleFontWeight":"normal","titleColor":"#111","titlePadding":9,"titleLineHeight":25,"labelFontSize":20,"labelColor":"#1a1a1a","labelPadding":3,"tickSize":5,"tickColor":"#777","domainColor":"#777","domainWidth":1.5,"grid":false,"labelFlush":false}}}},
{"data":{"name":"barsD"},"mark":{"type":"rule","color":"#333","strokeWidth":1.4},"encoding":{"x":{"field":"x","type":"quantitative","axis":null},"y":{"field":"mean","type":"quantitative","axis":null},"y2":{"field":"hi"}}},
{"data":{"name":"barsD"},"mark":{"type":"tick","orient":"horizontal","size":17,"thickness":1.4,"color":"#333"},"encoding":{"x":{"field":"x","type":"quantitative","axis":null},"y":{"field":"hi","type":"quantitative","axis":null}}},
{"data":{"name":"brD"},"mark":{"type":"rule","color":"#333","strokeWidth":1.3},"encoding":{"x":{"field":"x1","type":"quantitative","axis":null},"x2":{"field":"x2"},"y":{"field":"y","type":"quantitative","axis":null}}},
{"data":{"name":"brD"},"mark":{"type":"rule","color":"#333","strokeWidth":1.3},"encoding":{"x":{"field":"x1","type":"quantitative","axis":null},"y":{"field":"y","type":"quantitative","axis":null},"y2":{"field":"yl"}}},
{"data":{"name":"brD"},"mark":{"type":"rule","color":"#333","strokeWidth":1.3},"encoding":{"x":{"field":"x2","type":"quantitative","axis":null},"y":{"field":"y","type":"quantitative","axis":null},"y2":{"field":"yl"}}},
{"data":{"name":"brD"},"mark":{"type":"text","baseline":"middle","align":"center"},"encoding":{"x":{"field":"xt","type":"quantitative","axis":null},"y":{"field":"ty","type":"quantitative","axis":null},"text":{"field":"lab"},"size":{"condition":{"test":"datum.lab=='n.s.'","value":17},"value":14},"color":{"condition":{"test":"datum.lab=='n.s.'","value":"#222"},"value":"#555"}}},
{"data":{"name":"grpD"},"mark":{"type":"rule","color":"#444","strokeWidth":1.3},"encoding":{"x":{"field":"x1","type":"quantitative","axis":null},"x2":{"field":"x2"},"y":{"field":"yl","type":"quantitative","axis":null}}},
{"data":{"name":"grpD"},"mark":{"type":"text","baseline":"middle","align":"center","fontSize":20,"color":"#111"},"encoding":{"x":{"field":"xt","type":"quantitative","axis":null},"y":{"field":"yt","type":"quantitative","axis":null},"text":{"field":"t"}}}
]},
{"width":205,"height":310,"layer":[
{"data":{"name":"boxL"},"mark":{"type":"rect","stroke":"#2e2e2e","strokeWidth":1.4},"encoding":{"x":{"field":"x1","type":"quantitative","scale":{"domain":[-0.3,15.25],"nice":false,"zero":false},"axis":null},"x2":{"field":"x2"},"y":{"field":"y1","type":"quantitative","scale":{"domain":[4.1,35.1],"reverse":true,"nice":false,"zero":false},"axis":null},"y2":{"field":"y2"},"fill":{"field":"k","type":"nominal","scale":{"domain":["ins","act"],"range":["#ffffff","#ebebeb"]},"legend":null}}},
{"data":{"name":"bandL"},"transform":[{"lookup":"r","from":{"data":{"values":[{"r":"I1","y":5.5},{"r":"F1","y":7.0},{"r":"A1","y":10.2},{"r":"I2","y":18.8},{"r":"F2","y":20.5},{"r":"A2","y":24.2}]},"key":"r","fields":["y"]}}],"mark":{"type":"tick","orient":"horizontal","size":10,"thickness":2.8},"encoding":{"x":{"field":"l","type":"quantitative","axis":null},"y":{"field":"y","type":"quantitative","axis":null},"color":{"field":"v","type":"quantitative","scale":{"domain":[0,0.9],"range":["#ffffff","#000000"],"clamp":true},"legend":null}}},
{"data":{"name":"divL"},"mark":{"type":"rule","color":"#555","strokeWidth":1},"encoding":{"x":{"field":"x","type":"quantitative","axis":null},"y":{"field":"y1","type":"quantitative","axis":null},"y2":{"field":"y2"}}},
{"data":{"name":"labLl"},"mark":{"type":"text","align":"left","baseline":"middle","fontSize":21,"color":"#111"},"encoding":{"x":{"field":"x","type":"quantitative","axis":null},"y":{"field":"y","type":"quantitative","axis":null},"text":{"field":"t"}}},
{"data":{"name":"labLc"},"mark":{"type":"text","align":"center","baseline":"middle","fontSize":21,"color":"#111"},"encoding":{"x":{"field":"x","type":"quantitative","axis":null},"y":{"field":"y","type":"quantitative","axis":null},"text":{"field":"t"}}}
]},
{"width":205,"height":310,"layer":[
{"data":{"name":"boxR"},"mark":{"type":"rect","stroke":"#3a3a3a","strokeWidth":1.3},"encoding":{"x":{"field":"x1","type":"quantitative","scale":{"domain":[1.94,17.49],"nice":false,"zero":false},"axis":null},"x2":{"field":"x2"},"y":{"field":"y1","type":"quantitative","scale":{"domain":[4.1,35.1],"reverse":true,"nice":false,"zero":false},"axis":null},"y2":{"field":"y2"},"fill":{"field":"k","type":"nominal","scale":{"domain":["ins","act"],"range":["#ffffff","#ebebeb"]},"legend":null}}},
{"data":{"name":"bandR"},"transform":[{"lookup":"r","from":{"data":{"values":[{"r":"I1","y":5.2},{"r":"F1","y":7.0},{"r":"A1","y":10.3},{"r":"I2","y":18.7},{"r":"F2","y":20.8},{"r":"A2","y":24.0}]},"key":"r","fields":["y"]}}],"mark":{"type":"tick","orient":"horizontal","size":10,"thickness":2.8},"encoding":{"x":{"field":"l","type":"quantitative","axis":null},"y":{"field":"y","type":"quantitative","axis":null},"color":{"field":"v","type":"quantitative","scale":{"domain":[0,0.9],"range":["#ffffff","#000000"],"clamp":true},"legend":null}}},
{"data":{"name":"divR"},"mark":{"type":"rule","color":"#555","strokeWidth":1},"encoding":{"x":{"field":"x","type":"quantitative","axis":null},"y":{"field":"y1","type":"quantitative","axis":null},"y2":{"field":"y2"}}},
{"data":{"name":"labRl"},"mark":{"type":"text","align":"left","baseline":"middle","fontSize":21,"color":"#111"},"encoding":{"x":{"field":"x","type":"quantitative","axis":null},"y":{"field":"y","type":"quantitative","axis":null},"text":{"field":"t"}}},
{"data":{"name":"labRc"},"mark":{"type":"text","align":"center","baseline":"middle","fontSize":21,"color":"#111"},"encoding":{"x":{"field":"x","type":"quantitative","axis":null},"y":{"field":"y","type":"quantitative","axis":null},"text":{"field":"t"}}}
]}
]
}
